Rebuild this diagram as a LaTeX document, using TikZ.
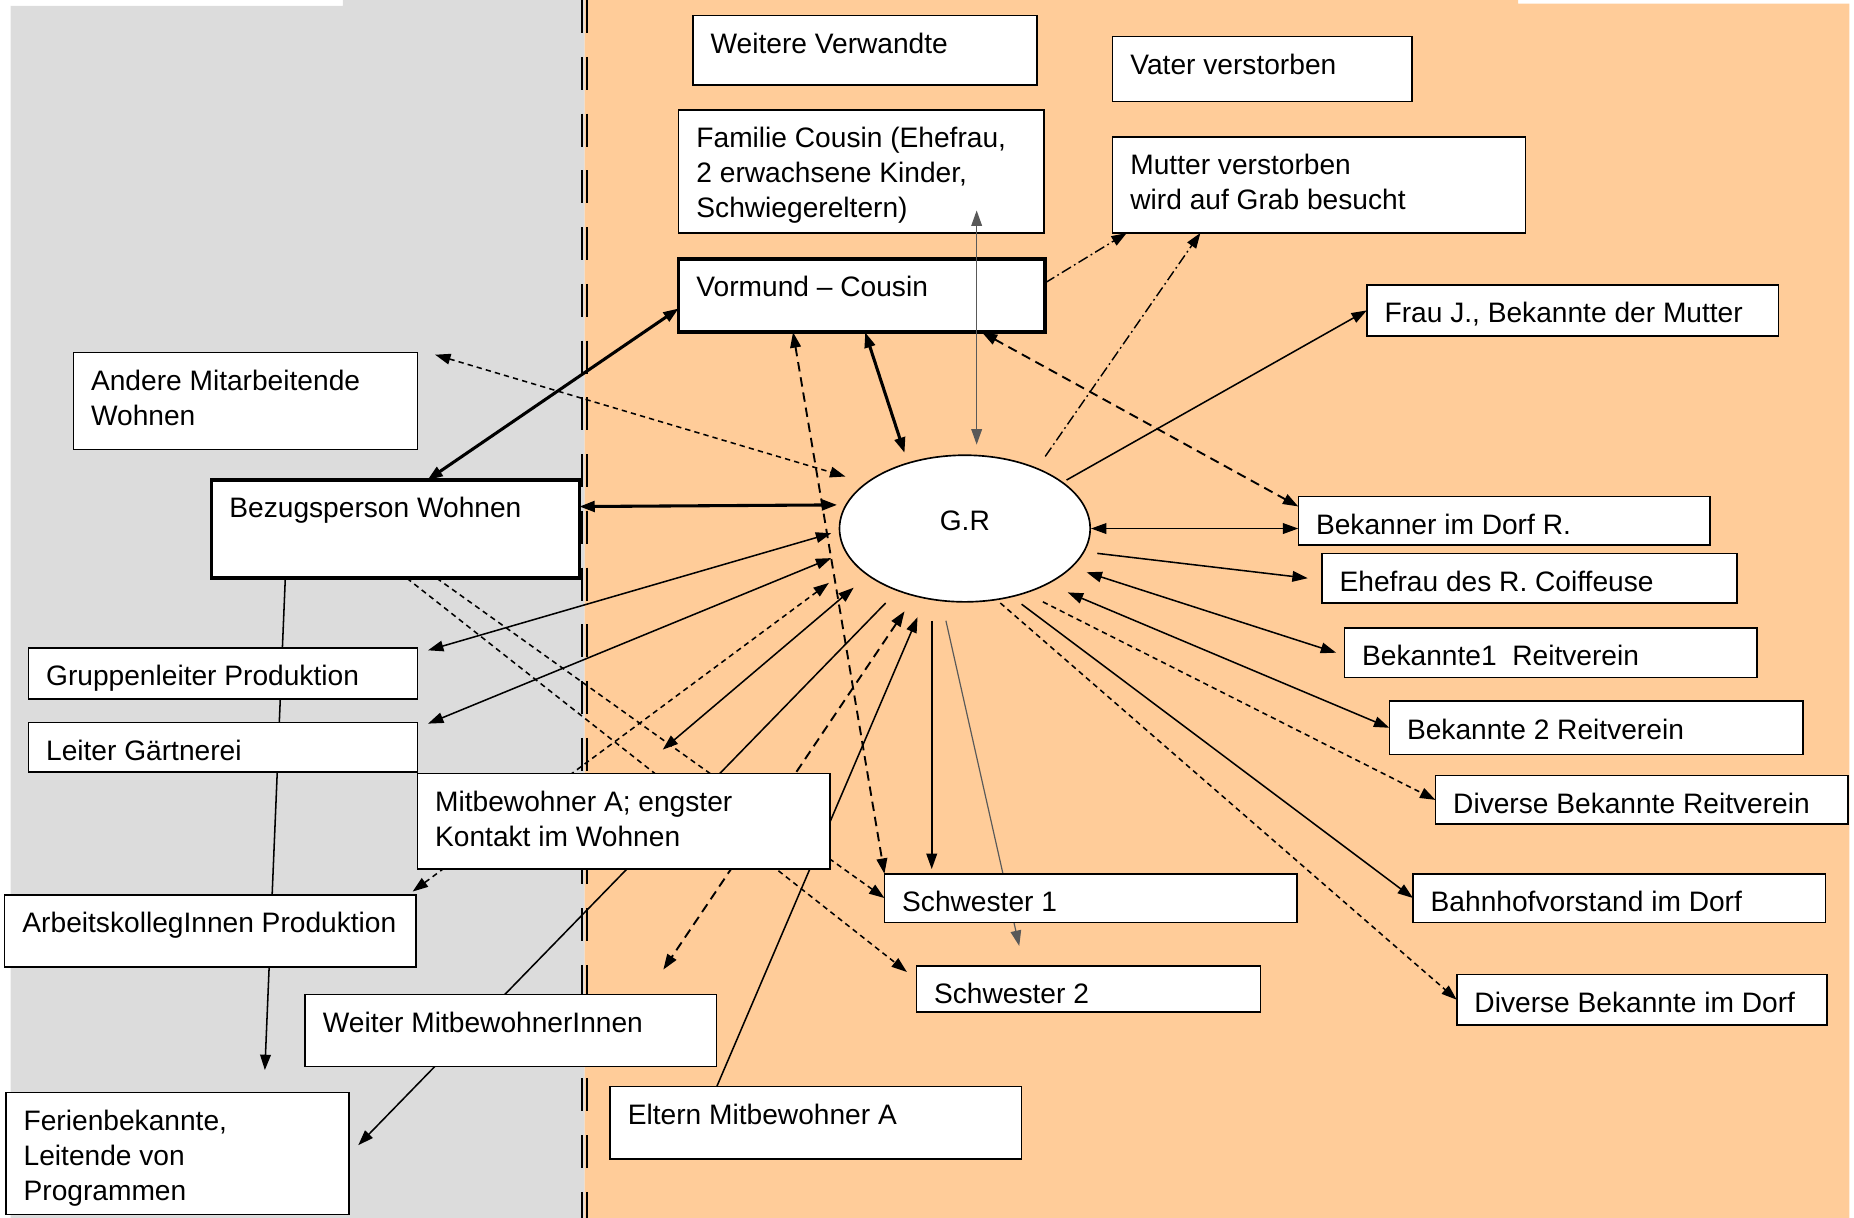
\documentclass[tikz,border=0pt]{standalone}
\usepackage{fontspec}
\setmainfont{Liberation Sans}
\usetikzlibrary{arrows.meta}
\usetikzlibrary{shapes.geometric}
\usetikzlibrary{calc}
\pgfdeclarelayer{background}
\pgfsetlayers{background,main}

\definecolor{instgray}{RGB}{220,220,220}
\definecolor{privorange}{RGB}{255,204,153}

\newcommand{\boxfont}{\fontsize{23.8}{29.5}\selectfont}
% text sits at the top left of a box of given width and height
\newcommand{\boxtext}[3]{%
  \parbox[t][#2pt][t]{#1pt}{\raggedright\leftskip=15pt\rule{0pt}{32pt}#3}}

\tikzset{
  % plain relation
  link/.style = {
    draw = black,
    line width = 1.3pt
  },
  % close relation
  strong link/.style = {
    link,
    line width = 2.6pt
  },
  dash link/.style = {
    link,
    line width = 1.6pt,
    dash pattern = on 8pt off 5pt
  },
  fine link/.style = {
    link,
    dash pattern = on 4.5pt off 3.5pt
  },
  dashdot link/.style = {
    link,
    line width = 1.2pt,
    dash pattern = on 9pt off 3pt on 1.5pt off 3pt
  },
  pale link/.style = {
    link,
    draw = black!65,
    line width = 1pt
  }
}
\tikzset{
  contact/.style = {
    draw = black,
    fill = white,
    rectangle,
    line width = 1.3pt,
    anchor = north west,
    inner sep = 0pt,
    outer sep = 0pt,
    font = \boxfont
  },
  close contact/.style = {
    contact,
    line width = 3pt
  },
  % the person in the middle
  person/.style = {
    draw = black,
    fill = white,
    ellipse,
    line width = 1.4pt,
    minimum width = 212pt,
    minimum height = 124pt,
    text depth = 14pt,
    font = \boxfont
  },
  separator/.style = {
    draw = black,
    line width = 1.4pt,
    dash pattern = on 28pt off 20pt
  }
}

\begin{document}
\begin{tikzpicture}[x=1pt, y=-1pt, >={Triangle[length=13pt, width=9pt]}]
  \useasboundingbox (0,0) rectangle (1568,1030);

  \node[contact] (wv) at (586,13) {\boxtext{291}{59}{Weitere Verwandte}};
  \node[contact] (fc) at (574,93) {\boxtext{309}{104}{Familie Cousin (Ehefrau,\\2 erwachsene Kinder,\\Schwiegereltern)}};
  \node[close contact] (vc) at (574,219) {\boxtext{310}{62}{Vormund – Cousin}};
  \node[contact] (vv) at (941,31) {\boxtext{253}{55}{Vater verstorben}};
  \node[contact] (mv) at (941,116) {\boxtext{349}{81}{Mutter verstorben\\wird auf Grab besucht}};
  \node[contact] (fj) at (1156,241) {\boxtext{348}{43}{Frau J., Bekannte der Mutter}};
  \node[contact] (am) at (62,298) {\boxtext{291}{82}{Andere Mitarbeitende\\Wohnen}};
  \node[close contact] (bw) at (179,406) {\boxtext{311}{83}{Bezugsperson Wohnen}};
  \node[person] (gr) at (816,447) {G.R};
  \node[contact] (bd) at (1098,420) {\boxtext{348}{41}{Bekanner im Dorf R.}};
  \node[contact] (ef) at (1118,468) {\boxtext{351}{42}{Ehefrau des R. Coiffeuse}};
  \node[contact] (br1) at (1137,531) {\boxtext{349}{42}{Bekannte1\ \ Reitverein}};
  \node[contact] (br2) at (1175,593) {\boxtext{350}{45}{Bekannte 2 Reitverein}};
  \node[contact] (dr) at (1214,656) {\boxtext{349}{41}{Diverse Bekannte Reitverein}};
  \node[contact] (bv) at (1195,739) {\boxtext{349}{41}{Bahnhofvorstand im Dorf}};
  \node[contact] (dd) at (1232,824) {\boxtext{313}{43}{Diverse Bekannte im Dorf}};
  \node[contact] (s1) at (748,739) {\boxtext{349}{41}{Schwester 1}};
  \node[contact] (s2) at (775,817) {\boxtext{291}{39}{Schwester 2}};
  \node[contact] (em) at (516,919) {\boxtext{348}{61}{Eltern Mitbewohner A}};
  \node[contact] (wm) at (258,841) {\boxtext{348}{61}{Weiter MitbewohnerInnen}};
  \node[contact] (fb) at (5,924) {\boxtext{290}{103}{Ferienbekannte,\\Leitende von\\Programmen}};
  \node[contact] (ak) at (4,757) {\boxtext{348}{61}{ArbeitskollegInnen Produktion}};
  \node[contact] (ma) at (353,654) {\boxtext{349}{81}{Mitbewohner A; engster\\Kontakt im Wohnen}};
  \node[contact] (gp) at (24,548) {\boxtext{329}{43}{Gruppenleiter Produktion}};
  \node[contact] (lg) at (24,611) {\boxtext{329}{42}{Leiter Gärtnerei}};

  \begin{pgfonlayer}{background}
    \fill[instgray] (9,5) -- (290,5) -- (290,0) -- (494.5,0) -- (494.5,1030) -- (9,1030) -- cycle;
    \fill[privorange] (494.5,0) -- (1284,0) -- (1284,3) -- (1564,3) -- (1564,1030) -- (494.5,1030) -- cycle;
    \draw[separator] (492.2,0) -- (492.2,1030);
    \draw[separator] (496.6,0) -- (496.6,1030);

    \draw[strong link, <->] (vc.184) -- (bw.57);
    \draw[strong link, <->] (vc.275) -- ($(gr)+(-51,-64)$);
    \draw[strong link, <->] (bw.7) -- ($(gr)+(-108,-20)$);
    \draw[dash link, <->] (vc.343) -- (bd.176);
    \draw[dash link, <->] (vc.208) -- (s1.north west);
    \draw[dash link, <->] ($(gr)+(-51,70)$) -- ($(wm.north)+(129,-21)$);
    \draw[fine link, <->] ($(am.north east)+(15,2)$) -- ($(gr)+(-101,-44)$);
    \draw[fine link, <->] ($(gr)+(-115,46)$) -- ($(ak.north east)+(-3,-3)$);
    \draw[fine link, ->] (bw.310) -- (s1.west);
    \draw[fine link, ->] (bw.283) -- ($(s2.north west)+(-8,5)$);
    \draw[fine link, ->] ($(gr)+(66,62)$) -- (dr.west);
    \draw[fine link, ->] ($(gr)+(30,63)$) -- (dd.west);
    \draw[dashdot link, ->] (vc.4) -- (mv.194);
    \draw[dashdot link, ->] ($(gr)+(68,-61)$) -- (mv.202);
    \draw[link, ->] ($(gr)+(86,-41)$) -- (fj.west);
    \draw[link, <->] (gr.east) -- (gr.east -| bd.west);
    \draw[link, ->] ($(gr)+(112,21)$) -- ($(ef.west)+(-12,0)$);
    \draw[link, <->] ($(gr)+(103,37)$) -- ($(br1.west)+(-7,0)$);
    \draw[link, <->] ($(gr)+(87,54)$) -- (br2.west);
    \draw[link, ->] ($(gr)+(48,64)$) -- (bv.west);
    \draw[link, ->] ($(gr)+(-28,78)$) -- ($(s1.north west)+(40,-4)$);
    \draw[pale link, ->] ($(gr)+(-16,78)$) -- ($(s2.north west)+(87,-17)$);
    \draw[link, <->] ($(gr)+(-113,4)$) -- ($(gp.north east)+(9,2)$);
    \draw[link, <->] ($(gr)+(-113,25)$) -- ($(lg.north east)+(9,1)$);
    \draw[link, <->] ($(gr)+(-94,50)$) -- ($(ma.north)+(33,-20)$);
    \draw[link, ->] ($(gr)+(-67,63)$) -- ($(fb.east)+(8,-7)$);
    \draw[link, ->] (em.160) -- ($(gr)+(-40,75)$);
    \draw[link, ->] (bw.204) -- ($(fb.north)+(74,-19)$);
  \end{pgfonlayer}

  \draw[pale link, <->] ($(fc.south)+(97.5,-19)$) -- ($(gr)+(10,-71)$);
\end{tikzpicture}
\end{document}
